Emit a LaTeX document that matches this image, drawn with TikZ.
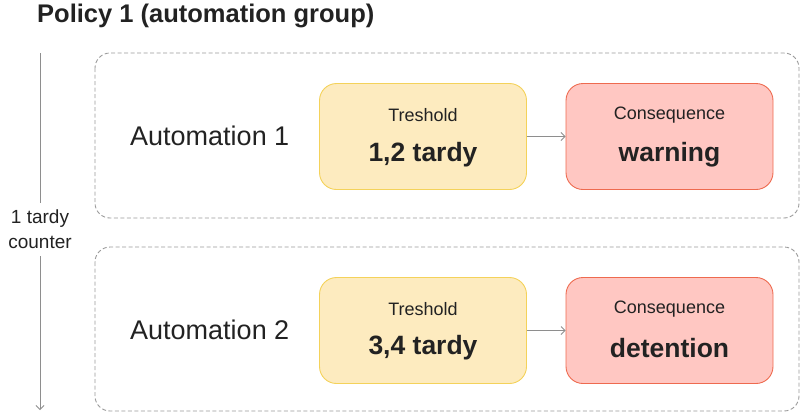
\documentclass[tikz,border=0pt]{standalone}
\usepackage{fontspec}
\setmainfont{Liberation Sans}
\usetikzlibrary{arrows.meta}
\definecolor{ink}{HTML}{222222}
\definecolor{dashgray}{HTML}{9A9A9A}
\definecolor{yfill}{HTML}{FDEBBF}
\definecolor{ydraw}{HTML}{F4D25A}
\definecolor{rfill}{HTML}{FFC7C2}
\definecolor{rdraw}{HTML}{EE6A4F}
\definecolor{arrgray}{HTML}{8E8E8E}
\tikzset{
  x=1pt,y=-1pt,
  group/.style={draw=dashgray,dash pattern=on 4pt off 2.5pt,line width=0.9pt,rounded corners=15pt},
  thrbox/.style={draw=ydraw,fill=yfill,line width=0.9pt,rounded corners=17pt,minimum width=207pt,minimum height=106pt},
  conbox/.style={draw=rdraw,fill=rfill,line width=0.9pt,rounded corners=17pt,minimum width=207pt,minimum height=106pt},
  autotext/.style={font=\fontsize{27}{32}\selectfont,text=ink,inner sep=0},
  captext/.style={font=\fontsize{18}{22}\selectfont,text=ink,inner sep=0},
  valtext/.style={font=\fontsize{26.5}{31}\selectfont\bfseries,text=ink,inner sep=0},
  flow/.style={draw=arrgray,line width=0.8pt,-{Straight Barb[length=4pt,width=8pt]}},
}
\begin{document}
\begin{tikzpicture}
\useasboundingbox (0,0) rectangle (800,413);
\node[anchor=base west,inner sep=0,font=\fontsize{25.5}{30}\selectfont\bfseries,text=ink] (title) at (37,22) {Policy 1 (automation group)};
% groups
\draw[group] (95,53) rectangle (799,218);
\draw[group] (95,247) rectangle (799,411);
% counter arrow
\node[align=center,font=\fontsize{19}{25}\selectfont,text=ink,inner sep=0] (cnt) at (40,229.5) {1 tardy\\counter};
\coordinate (ctop) at (40,53);
\coordinate (cbot) at (40,410);
\draw[arrgray,line width=0.8pt] (ctop) -- (40,203);
\draw[flow] (40,256) -- (cbot);
% automation 1
\node[autotext,anchor=west] (a1) at (130,136) {Automation 1};
\node[thrbox] (t1) at (423,136.5) {};
\node[captext] (t1c) at (423,115.5) {Treshold};
\node[valtext] (t1v) at (423,154.5) {1,2 tardy};
\node[conbox] (c1) at (669.5,136.5) {};
\node[captext] (c1c) at (669.5,115.5) {Consequence};
\node[valtext] (c1v) at (669.5,154.5) {warning};
\draw[flow] (t1) -- (c1);
% automation 2
\node[autotext,anchor=west] (a2) at (130,330) {Automation 2};
\node[thrbox] (t2) at (423,330.5) {};
\node[captext] (t2c) at (423,309.5) {Treshold};
\node[valtext] (t2v) at (423,348) {3,4 tardy};
\node[conbox] (c2) at (669.5,330.5) {};
\node[captext] (c2c) at (669.5,309.5) {Consequence};
\node[valtext] (c2v) at (669.5,348) {detention};
\draw[flow] (t2) -- (c2);
\end{tikzpicture}
\end{document}
